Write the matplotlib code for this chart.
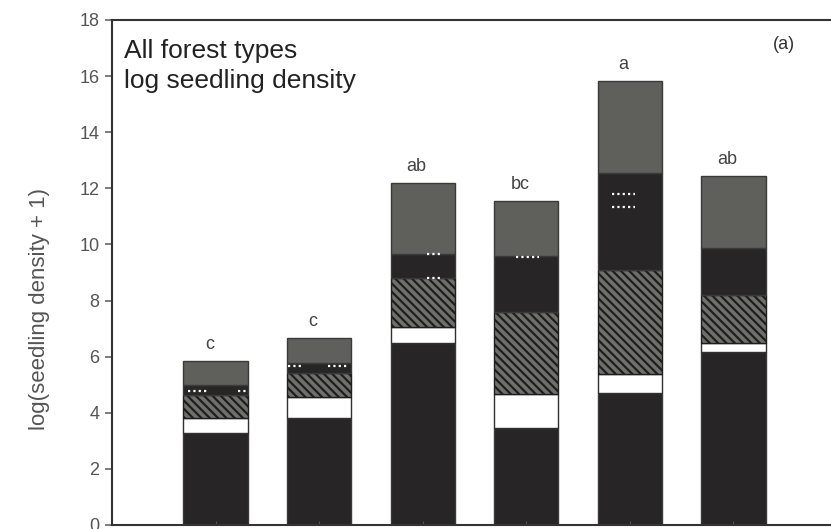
import matplotlib
matplotlib.use("Agg")
import matplotlib.pyplot as plt
import numpy as np

plt.rcParams['font.family'] = ['Liberation Sans', 'DejaVu Sans']
plt.rcParams['hatch.linewidth'] = 1.6

# cumulative top of each stacked layer (log seedling density + 1)
positions = [1, 2, 3, 4, 5, 6]
top_black_low = [3.28, 3.81, 6.49, 3.46, 4.70, 6.17]
top_white = [3.81, 4.56, 7.06, 4.67, 5.38, 6.49]
top_hatched = [4.63, 5.42, 8.80, 7.59, 9.09, 8.20]
top_black_mid = [4.99, 5.77, 9.66, 9.59, 12.54, 9.87]
top_gray = [5.84, 6.66, 12.19, 11.55, 15.82, 12.44]
letters = ['c', 'c', 'ab', 'bc', 'a', 'ab']

# white dotted marks (bar, y, x offset start, x offset end)
dot_bar = [1, 1, 2, 2, 3, 3, 4, 5, 5]
dot_y = [4.78, 4.78, 5.67, 5.67, 9.66, 8.80, 9.55, 11.80, 11.33]
dot_x0 = [-0.27, 0.22, -0.30, 0.09, 0.04, 0.04, -0.10, -0.17, -0.17]
dot_x1 = [-0.06, 0.30, -0.15, 0.28, 0.18, 0.18, 0.12, 0.05, 0.05]

black = '#272526'
gray = '#5f605c'
hatch_face = '#6f6f6b'
width = 0.62

fig = plt.figure(figsize=(8.31, 5.29), dpi=100)
ax = fig.add_axes([0.1348, 0.0076, 0.8724, 0.9546])

layers = [top_black_low, top_white, top_hatched, top_black_mid, top_gray]
styles = [
    dict(color=black, edgecolor='#3a3a3a'),
    dict(color='white', edgecolor='#303030'),
    dict(color=hatch_face, edgecolor='#1e1e1e', hatch='\\\\\\\\'),
    dict(color=black, edgecolor='#3a3a3a'),
    dict(color=gray, edgecolor='#3a3a3a'),
]
bottom = np.zeros(len(positions))
for tops, st in zip(layers, styles):
    tops = np.array(tops)
    ax.bar(positions, tops - bottom, width, bottom=bottom, linewidth=1.0, **st)
    bottom = tops

for b, y, a, c in zip(dot_bar, dot_y, dot_x0, dot_x1):
    ax.hlines(y, b + a, b + c, colors='white', linestyles=(0, (1, 1.4)), linewidth=1.6)

for x, t, lab in zip(positions, top_gray, letters):
    ax.text(x - 0.06, t + 0.6, lab, ha='center', va='center', fontsize=13, color='#444444')

ax.text(0.12, 16.64, 'All forest types', fontsize=19, color='#222222',
        ha='left', va='baseline')
ax.text(0.12, 15.57, 'log seedling density', fontsize=19, color='#222222',
        ha='left', va='baseline')
ax.text(6.49, 17.14, '(a)', fontsize=13, color='#333333', ha='center', va='center')

ax.set_xlim(0, 7)
ax.set_ylim(0, 18)
ax.set_yticks(np.arange(0, 19, 2))
ax.set_xticks(positions)
ax.set_xticklabels([])
ax.tick_params(axis='y', direction='out', length=5, width=1.2, color='#666666',
               labelsize=13, labelcolor='#555555', pad=4)
ax.tick_params(axis='x', direction='in', length=3, color='#555555')
for s in ax.spines.values():
    s.set_linewidth(1.5)
    s.set_color('#333333')
ax.set_ylabel('log(seedling density + 1)', fontsize=16, color='#555555')
ax.yaxis.set_label_coords(-0.0855, 0.428)

fig.savefig('out.png', dpi=100)
